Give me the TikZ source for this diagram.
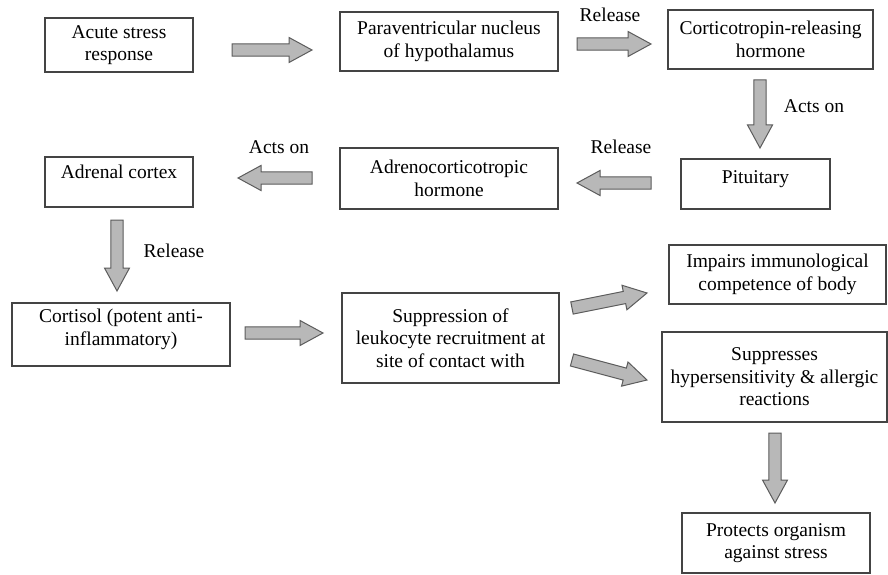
\documentclass[tikz,border=0pt]{standalone}
\usepackage{fontspec}
\setmainfont{Liberation Serif}
\usepackage{tikz}
\usetikzlibrary{calc}
\definecolor{boxline}{HTML}{444444}
\definecolor{arrowfill}{HTML}{B8B8B8}
\definecolor{arrowline}{HTML}{5C5C5C}
\tikzset{
    stage/.style={
        rectangle,
        draw=boxline,
        line width=1.3pt,
        align=center,
        inner sep=2pt,
        font=\fontsize{19.5}{22.5}\selectfont
    },
    blockarrow/.style={
        draw=arrowline,
        fill=arrowfill,
        line width=1pt,
        line join=miter
    },
    note/.style={
        font=\fontsize{19.5}{22.5}\selectfont
    }
}
% fat gray arrow from #1 to #2
\newcommand{\fatarrow}[2]{%
    \coordinate (neck) at ($(#2)!23pt!(#1)$);
    \draw[blockarrow] ($(#1)!6.2pt!-90:(#2)$) -- ($(neck)!6.2pt!-90:(#2)$) -- ($(neck)!12.5pt!-90:(#2)$) -- (#2)
        -- ($(neck)!12.5pt!90:(#2)$) -- ($(neck)!6.2pt!90:(#2)$) -- ($(#1)!6.2pt!90:(#2)$) -- cycle;
}

\begin{document}
\begin{tikzpicture}[x=1pt, y=-1pt]

\fill[white] (0,0) rectangle (888,575);
\useasboundingbox (0,0) rectangle (888,575);

% boxes
\node[stage, minimum width=148, minimum height=54] (acute) at (119,45) {Acute stress\\response};
\node[stage, minimum width=218, minimum height=59] (pvn) at (449,41.5) {Paraventricular nucleus\\of hypothalamus};
\node[stage, minimum width=205, minimum height=59] (crh) at (770.5,39.5) {Corticotropin-releasing\\hormone};
\node[stage, minimum width=149, minimum height=50] (pit) at (755.5,184) {Pituitary\\[-8pt]\mbox{}};
\node[stage, minimum width=218, minimum height=61] (acth) at (449,178.5) {Adrenocorticotropic\\hormone};
\node[stage, minimum width=148, minimum height=50] (adrenal) at (119,182) {Adrenal cortex\\[-2pt]\mbox{}};
\node[stage, minimum width=218, minimum height=63] (cortisol) at (121,334.5) {Cortisol (potent anti-\\inflammatory)\\[-8pt]\mbox{}};
\node[stage, minimum width=217, minimum height=90] (supp) at (450.5,338) {Suppression of\\leukocyte recruitment at\\site of contact with};
\node[stage, minimum width=217, minimum height=59] (impairs) at (777.5,274.5) {Impairs immunological\\competence of body};
\node[stage, minimum width=225, minimum height=90] (hyper) at (774.5,377) {Suppresses\\hypersensitivity \& allergic\\reactions};
\node[stage, minimum width=188, minimum height=60] (protects) at (776,543) {Protects organism\\against stress};

% arrow ends
\coordinate (a1s) at (232,50);   \coordinate (a1e) at (312,50);
\coordinate (a2s) at (577,44);   \coordinate (a2e) at (651,44);
\coordinate (a3s) at (760,80);   \coordinate (a3e) at (760,148);
\coordinate (a4s) at (651,183);  \coordinate (a4e) at (577,183);
\coordinate (a5s) at (312,178);  \coordinate (a5e) at (238,178);
\coordinate (a6s) at (117,220);  \coordinate (a6e) at (117,291);
\coordinate (a7s) at (245,333);  \coordinate (a7e) at (323,333);
\coordinate (a8s) at (572,308);  \coordinate (a8e) at (647,293);
\coordinate (a9s) at (572,360);  \coordinate (a9e) at (647,380);
\coordinate (a10s) at (775,433); \coordinate (a10e) at (775,503);

\fatarrow{a1s}{a1e}
\fatarrow{a2s}{a2e}
\fatarrow{a3s}{a3e}
\fatarrow{a4s}{a4e}
\fatarrow{a5s}{a5e}
\fatarrow{a6s}{a6e}
\fatarrow{a7s}{a7e}
\fatarrow{a8s}{a8e}
\fatarrow{a9s}{a9e}
\fatarrow{a10s}{a10e}

% labels
\node[note] (rel1) at (610,15) {Release};
\node[note] (act1) at (814,106) {Acts on};
\node[note] (rel2) at (621,147) {Release};
\node[note] (act2) at (279,147) {Acts on};
\node[note] (rel3) at (174,251) {Release};

\end{tikzpicture}
\end{document}
